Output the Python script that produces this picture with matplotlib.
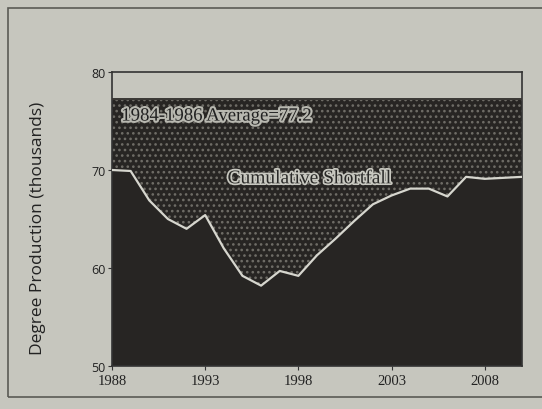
import matplotlib
matplotlib.use("Agg")
import matplotlib.pyplot as plt
import matplotlib.patheffects as pe
from matplotlib.patches import Rectangle

# Data
years = [1988, 1989, 1990, 1991, 1992, 1993, 1994, 1995, 1996, 1997, 1998, 1999,
         2000, 2001, 2002, 2003, 2004, 2005, 2006, 2007, 2008, 2009, 2010]
production = [70.0, 69.9, 66.9, 65.0, 64.0, 65.4, 62.0, 59.2, 58.2, 59.7, 59.2, 61.3,
              63.0, 64.8, 66.5, 67.4, 68.1, 68.1, 67.3, 69.3, 69.1, 69.2, 69.3]
average_value = 77.2
average_label = "1984-1986 Average=77.2"
shortfall_label = "Cumulative Shortfall"
x_ticks = [1988, 1993, 1998, 2003, 2008]
y_ticks = [50, 60, 70, 80]
y_label = "Degree Production (thousands)"

paper = "#c6c6be"
dark = "#272523"
light_line = "#d6d6ce"

plt.rcParams['hatch.linewidth'] = 1.1
fig = plt.figure(figsize=(5.42, 4.10), dpi=100, facecolor=paper)
ax = fig.add_axes([112/542, 1 - 367/410, (522-112)/542, (367-73)/410])
ax.set_facecolor(paper)

# outer frame
fig.patches.append(Rectangle((8/542, 1 - 398/410), 540/542, 389/410,
                             transform=fig.transFigure, fill=False,
                             edgecolor="#5a5a55", linewidth=1.2))

# solid area below production
ax.fill_between(years, 50, production, facecolor=dark, edgecolor="none", zorder=1)
# speckled shortfall area
ax.fill_between(years, production, average_value, facecolor=dark,
                edgecolor="#6f6d67", hatch="...", linewidth=0, zorder=1)
# boundary lines
ax.plot(years, production, color=light_line, linewidth=1.6, zorder=3)
ax.axhline(average_value, color="#3a3835", linewidth=1.4, zorder=3)

serif = ["Liberation Serif", "DejaVu Serif"]
ax.text(1988.5, 75.5, average_label, fontsize=13.5, family=serif, color="#222",
        va="center", ha="left", zorder=4,
        path_effects=[pe.withStroke(linewidth=3, foreground="#b8b8b0")])
ax.text(1994.2, 69.1, shortfall_label, fontsize=14, family=serif, color="#2a2a28",
        va="center", ha="left", zorder=4,
        path_effects=[pe.withStroke(linewidth=2.5, foreground="#c8c8c0")])

ax.set_xlim(1988, 2010)
ax.set_ylim(50, 80)
ax.set_xticks(x_ticks)
ax.set_xticklabels([str(t) for t in x_ticks], family=serif, fontsize=10.5, color="#222")
ax.set_yticks(y_ticks)
ax.set_yticklabels([str(t) for t in y_ticks], family="Open Sans", fontsize=9, color="#222")
ax.tick_params(axis="both", direction="out", length=3, color="#333", pad=1.5)
ax.tick_params(axis="x", pad=3)
ax.set_ylabel(y_label, family="Open Sans", fontsize=12.5, color="#222")
ax.yaxis.set_label_coords((46 - 112) / 410, 0.47)
for s in ax.spines.values():
    s.set_color("#333")
    s.set_linewidth(1.2)

fig.savefig("out.png", dpi=100, facecolor=paper)
